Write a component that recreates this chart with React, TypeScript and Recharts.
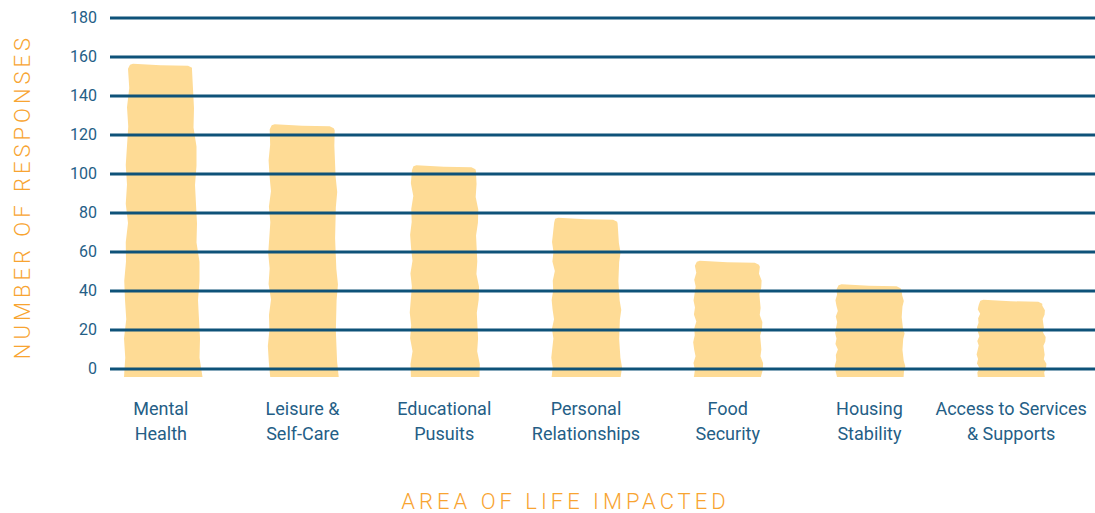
import React from 'react';
import {
  BarChart,
  Bar,
  XAxis,
  YAxis,
  ReferenceLine,
  Label,
} from 'recharts';

const categories = [
  'Mental\nHealth',
  'Leisure &\nSelf-Care',
  'Educational\nPusuits',
  'Personal\nRelationships',
  'Food\nSecurity',
  'Housing\nStability',
  'Access to Services\n& Supports',
];
const responses = [156, 125, 104, 77, 55, 43, 35];
const yTicks = [0, 20, 40, 60, 80, 100, 120, 140, 160, 180];

const BAR = '#fedb95';
const GRID = '#0e5279';
const TEXT = '#245e86';
const ORANGE = '#f8a431';
const FONT = 'Roboto, "Open Sans", sans-serif';

const chartData = categories.map((name, i) => ({ name, value: responses[i] }));

// small wobble used to give the bars a painted edge
const jag = [0, 1, -0.5, 1.5, 0, -1, 0.5, 0, 2, -0.5, 0.5, -1];

const BrushBar = (props: any) => {
  const { x, y, width, height, index } = props;
  const bottom = y + height + 8;
  const steps = 16;
  const pts: string[] = [];
  const taper = index === 0 ? 4 : 1;
  // left edge, bottom to top
  for (let i = 0; i <= steps; i++) {
    const t = i / steps;
    const yy = bottom - (bottom - y - 4) * t;
    const off = jag[(i + index * 3) % jag.length] - taper * (1 - t);
    pts.push(`${x + off},${yy}`);
  }
  // top edge, slightly uneven with rounded corners
  pts.push(`${x + 2},${y}`);
  pts.push(`${x + 5},${y - 1}`);
  pts.push(`${x + width * 0.5},${y + 0.5}`);
  pts.push(`${x + width - 5},${y + 1}`);
  pts.push(`${x + width - 1},${y + 3}`);
  // right edge, top to bottom
  for (let i = steps; i >= 0; i--) {
    const t = i / steps;
    const yy = bottom - (bottom - y - 5) * t;
    const off = jag[(i * 2 + index * 5 + 3) % jag.length] + taper * 2 * (1 - t);
    pts.push(`${x + width + off},${yy}`);
  }
  return <polygon points={pts.join(' ')} fill={BAR} />;
};

const GridLine = (props: any) => {
  const { x1, y1, x2, y2 } = props;
  return <line x1={x1 + 20} y1={y1} x2={x2} y2={y2} stroke={GRID} strokeWidth={3} />;
};

const XTick = (props: any) => {
  const { x, y, payload } = props;
  const lines = String(payload.value).split('\n');
  return (
    <text x={x} y={y} textAnchor="middle" fill={TEXT} fontSize={18} fontFamily={FONT}>
      {lines.map((l, i) => (
        <tspan key={i} x={x} dy={i === 0 ? 38 : 25}>
          {l}
        </tspan>
      ))}
    </text>
  );
};

const YTick = (props: any) => {
  const { x, y, payload } = props;
  return (
    <text x={x + 15} y={y} dy={5} textAnchor="end" fill={TEXT} fontSize={16} fontFamily={FONT}>
      {payload.value}
    </text>
  );
};

const App: React.FC = () => {
  return (
    <div style={{ position: 'absolute', left: 0, top: 0, background: '#fff' }}>
      <BarChart
        width={1095}
        height={513}
        data={chartData}
        margin={{ top: 18, right: 0, left: 0, bottom: 0 }}
      >
        <XAxis
          dataKey="name"
          axisLine={false}
          tickLine={false}
          interval={0}
          height={144}
          padding={{ left: 0, right: 13 }}
          tick={<XTick />}
        >
          <Label
            content={(p: any) => {
              const vb = p.viewBox || {};
              return (
                <text
                  x={vb.x + vb.width / 2 - 27}
                  y={509}
                  textAnchor="middle"
                  fill={ORANGE}
                  fontSize={22}
                  fontWeight={300}
                  letterSpacing={4}
                  fontFamily={FONT}
                >
                  AREA OF LIFE IMPACTED
                </text>
              );
            }}
          />
        </XAxis>
        <YAxis
          width={90}
          domain={[0, 180]}
          ticks={yTicks}
          axisLine={false}
          tickLine={false}
          tick={<YTick />}
        >
          <Label
            content={(p: any) => {
              const vb = p.viewBox || {};
              const cy = vb.y + vb.height / 2 + 3;
              return (
                <text
                  x={30}
                  y={cy}
                  transform={`rotate(-90, 30, ${cy})`}
                  textAnchor="middle"
                  fill={ORANGE}
                  fontSize={22}
                  fontWeight={300}
                  letterSpacing={4}
                  fontFamily={FONT}
                >
                  NUMBER OF RESPONSES
                </text>
              );
            }}
          />
        </YAxis>
        <Bar dataKey="value" barSize={65} shape={<BrushBar />} isAnimationActive={false} />
        {yTicks.map((t) => (
          <ReferenceLine key={t} y={t} shape={<GridLine />} />
        ))}
      </BarChart>
    </div>
  );
};

export default App;
